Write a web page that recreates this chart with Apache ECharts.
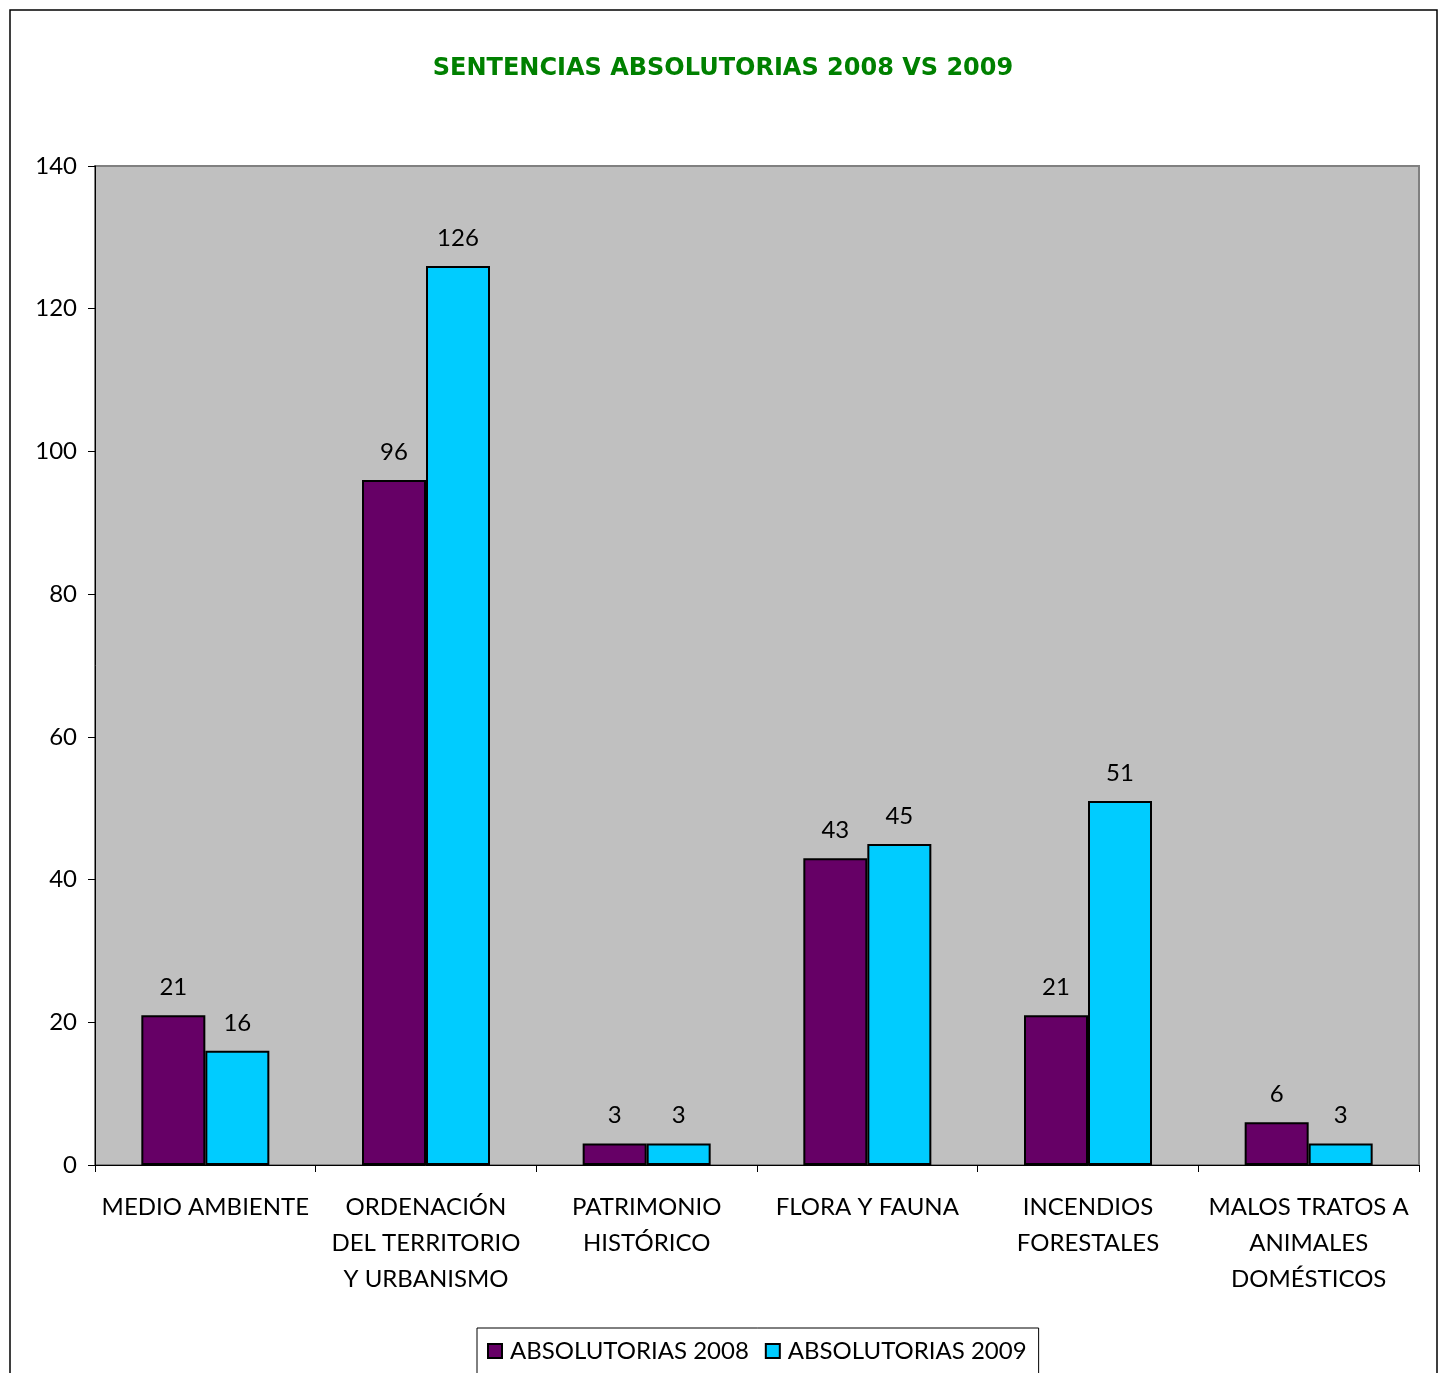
<!DOCTYPE html>
<html><head><meta charset="utf-8">
<script src="https://cdn.jsdelivr.net/npm/echarts@6/dist/echarts.min.js"></script>
<style>html,body{margin:0;padding:0;background:#fff}#c{width:1446px;height:1373px}</style>
</head><body><div id="c"></div>
<script>
const titleText = 'SENTENCIAS ABSOLUTORIAS 2008 VS 2009';
const categories = ['MEDIO AMBIENTE', 'ORDENACIÓN\nDEL TERRITORIO\nY URBANISMO', 'PATRIMONIO\nHISTÓRICO', 'FLORA Y FAUNA', 'INCENDIOS\nFORESTALES', 'MALOS TRATOS A\nANIMALES\nDOMÉSTICOS'];
const seriesNames = ['ABSOLUTORIAS 2008', 'ABSOLUTORIAS 2009'];
const values2008 = [21, 96, 3, 43, 21, 6];
const values2009 = [16, 126, 3, 45, 51, 3];
const yMin = 0, yMax = 140, yStep = 20;

const FONT = 'Lato';
const chart = echarts.init(document.getElementById('c'));
const labelStyle = {show: true, position: 'top', distance: 16, color: '#000', fontSize: 24, fontFamily: FONT};
chart.setOption({
  animation: false,
  backgroundColor: '#fff',
  graphic: [{type: 'rect', shape: {x: 10, y: 10, width: 1427, height: 1420}, style: {fill: 'none', stroke: '#000', lineWidth: 1.5}, z: -1}],
  title: {text: titleText, left: 'center', top: 52, textStyle: {color: '#008000', fontSize: 24, fontWeight: 'bold', fontFamily: 'DejaVu Sans'}},
  legend: {top: 1328, left: 477, itemWidth: 14, itemHeight: 14, itemGap: 16, icon: 'rect', borderColor: '#000', borderWidth: 1, padding: [11, 12, 30, 10],
    textStyle: {fontSize: 24, fontFamily: FONT, color: '#000', padding: [0, 0, 0, 3]},
    data: seriesNames.map(n => ({name: n, itemStyle: {borderColor: '#000', borderWidth: 2}}))},
  grid: {left: 95, right: 27, top: 166, bottom: 208, show: true, backgroundColor: '#C0C0C0', borderColor: '#808080', borderWidth: 2},
  xAxis: {type: 'category', data: categories,
    axisLine: {lineStyle: {color: '#000', width: 1}},
    axisTick: {show: true, length: 7, lineStyle: {color: '#000'}},
    axisLabel: {fontSize: 24, fontFamily: FONT, color: '#000', margin: 24, lineHeight: 36, interval: 0}},
  yAxis: {type: 'value', min: yMin, max: yMax, interval: yStep,
    splitLine: {show: false},
    axisLine: {show: true, lineStyle: {color: '#000', width: 1}},
    axisTick: {show: true, length: 7, lineStyle: {color: '#000'}},
    axisLabel: {fontSize: 24, fontFamily: FONT, color: '#000', margin: 18}},
  series: [
    {name: seriesNames[0], type: 'bar', data: values2008, barWidth: 64, barGap: '0%',
     itemStyle: {color: '#660066', borderColor: '#000', borderWidth: 2}, label: labelStyle},
    {name: seriesNames[1], type: 'bar', data: values2009, barWidth: 64, barGap: '0%',
     itemStyle: {color: '#00CCFF', borderColor: '#000', borderWidth: 2}, label: labelStyle}
  ]
});
</script></body></html>
